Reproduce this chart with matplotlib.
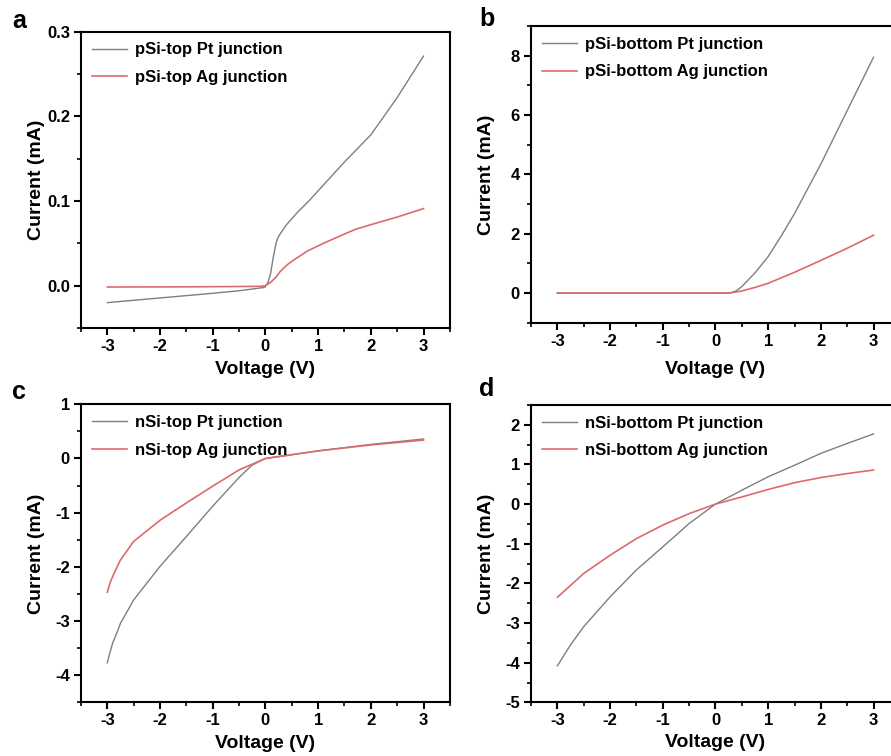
import matplotlib.pyplot as plt
from matplotlib.ticker import MultipleLocator

plt.rcParams["font.family"] = ["Liberation Sans", "DejaVu Sans"]
plt.rcParams["font.weight"] = "bold"
plt.rcParams["axes.unicode_minus"] = False

GREY = "#7f7f7f"
RED = "#dd6a6c"

# (a) pSi-top
a_pt_v = [-3.0, -2.0, -1.0, -0.5, -0.01, 0.05, 0.1, 0.15, 0.2, 0.24, 0.3, 0.4, 0.6, 0.84, 1.0, 1.5, 2.0, 2.5, 3.0]
a_pt_i = [-0.020, -0.0145, -0.009, -0.006, -0.002, 0.004, 0.015, 0.034, 0.050, 0.057, 0.063, 0.072, 0.086, 0.101, 0.112, 0.146, 0.178, 0.222, 0.271]
a_ag_v = [-3.0, -2.0, -1.0, -0.1, 0.0, 0.1, 0.2, 0.27, 0.4, 0.53, 0.8, 1.1, 1.5, 1.73, 2.0, 2.5, 3.0]
a_ag_i = [-0.0016, -0.0015, -0.0012, -0.0008, 0.0, 0.004, 0.010, 0.016, 0.024, 0.030, 0.041, 0.050, 0.061, 0.067, 0.072, 0.081, 0.091]

# (b) pSi-bottom
b_pt_v = [-3.0, -1.0, 0.0, 0.3, 0.4, 0.5, 0.75, 1.0, 1.25, 1.5, 2.0, 2.5, 3.0]
b_pt_i = [0.0, 0.0, 0.0, 0.01, 0.08, 0.22, 0.68, 1.23, 1.93, 2.68, 4.35, 6.15, 7.95]
b_ag_v = [-3.0, -1.0, 0.0, 0.25, 0.5, 0.75, 1.0, 1.5, 2.0, 2.5, 3.0]
b_ag_i = [0.0, 0.0, 0.0, 0.0, 0.07, 0.19, 0.33, 0.70, 1.10, 1.51, 1.95]

# (c) nSi-top
c_pt_v = [-3.0, -2.95, -2.9, -2.8, -2.75, -2.5, -2.0, -1.5, -1.0, -0.5, -0.25, 0.0, 1.0, 2.0, 3.0]
c_pt_i = [-3.77, -3.58, -3.41, -3.17, -3.04, -2.61, -1.99, -1.44, -0.88, -0.35, -0.12, 0.0, 0.14, 0.26, 0.36]
c_ag_v = [-3.0, -2.95, -2.9, -2.8, -2.75, -2.5, -2.0, -1.5, -1.0, -0.5, 0.0, 1.0, 2.0, 3.0]
c_ag_i = [-2.47, -2.30, -2.18, -1.97, -1.87, -1.53, -1.14, -0.82, -0.51, -0.21, 0.0, 0.14, 0.25, 0.34]

# (d) nSi-bottom
d_pt_v = [-3.0, -2.75, -2.5, -2.0, -1.5, -1.0, -0.5, 0.0, 0.5, 1.0, 1.5, 2.0, 2.5, 3.0]
d_pt_i = [-4.08, -3.55, -3.09, -2.34, -1.66, -1.08, -0.49, 0.0, 0.35, 0.69, 0.98, 1.28, 1.53, 1.77]
d_ag_v = [-3.0, -2.5, -2.0, -1.5, -1.0, -0.5, 0.0, 0.5, 1.0, 1.5, 2.0, 2.5, 3.0]
d_ag_i = [-2.35, -1.75, -1.29, -0.87, -0.53, -0.24, 0.0, 0.18, 0.37, 0.54, 0.67, 0.77, 0.86]

panels = [
    # letter, rect, ylim, major, minor, curves, labels, y-format, xlabel y
    ("a", [0.0909, 0.5661, 0.414, 0.3922], (-0.05, 0.3), 0.1, 0.05,
     (a_pt_v, a_pt_i, a_ag_v, a_ag_i), ("pSi-top Pt junction", "pSi-top Ag junction"), "%.1f", -0.110),
    ("b", [0.596, 0.5731, 0.414, 0.3925], (-1, 9), 2, 1,
     (b_pt_v, b_pt_i, b_ag_v, b_ag_i), ("pSi-bottom Pt junction", "pSi-bottom Ag junction"), "%d", -0.128),
    ("c", [0.0909, 0.0710, 0.414, 0.3942], (-4.5, 1), 1, 0.5,
     (c_pt_v, c_pt_i, c_ag_v, c_ag_i), ("nSi-top Pt junction", "nSi-top Ag junction"), "%d", -0.108),
    ("d", [0.596, 0.0710, 0.414, 0.3933], (-5, 2.5), 1, 0.5,
     (d_pt_v, d_pt_i, d_ag_v, d_ag_i), ("nSi-bottom Pt junction", "nSi-bottom Ag junction"), "%d", -0.108),
]

letter_pos = {"a": (0.014, 0.972), "b": (0.538, 0.975), "c": (0.014, 0.482), "d": (0.538, 0.485)}

fig = plt.figure(figsize=(8.91, 7.56), dpi=100)

for letter, rect, ylim, major, minor, curves, labels, fmt, xlab_y in panels:
    ax = fig.add_axes(rect)
    pv, pi, av, ai = curves
    ax.plot(pv, pi, color=GREY, lw=1.0, label=labels[0])
    ax.plot(av, ai, color=RED, lw=1.2, label=labels[1])
    ax.set_xlim(-3.5, 3.5)
    ax.set_ylim(*ylim)
    ax.xaxis.set_major_locator(MultipleLocator(1))
    ax.xaxis.set_minor_locator(MultipleLocator(0.5))
    ax.yaxis.set_major_locator(MultipleLocator(major))
    ax.yaxis.set_minor_locator(MultipleLocator(minor))
    ax.yaxis.set_major_formatter(plt.FormatStrFormatter(fmt))
    ax.tick_params(which="major", direction="out", length=5, width=1.5, labelsize=12, pad=3)
    ax.tick_params(which="minor", direction="out", length=3, width=1.2)
    for sp in ax.spines.values():
        sp.set_linewidth(1.5)
    for t in ax.get_xticklabels() + ax.get_yticklabels():
        t.set_fontweight("bold")
    ax.set_xlabel("Voltage (V)", fontsize=14, fontweight="bold")
    ax.set_ylabel("Current (mA)", fontsize=14, fontweight="bold", va="center")
    ax.xaxis.set_label_coords(0.5, xlab_y)
    ax.yaxis.set_label_coords(-0.12, 0.5)
    ax.legend(loc="upper left", frameon=False, handlelength=2.1,
              handletextpad=0.5, labelspacing=0.75, borderaxespad=0.25,
              prop={"weight": "bold", "size": 12})
    fig.text(*letter_pos[letter], letter, fontsize=18, fontweight="bold", ha="left", va="center")

fig.savefig("out.png", dpi=100)
